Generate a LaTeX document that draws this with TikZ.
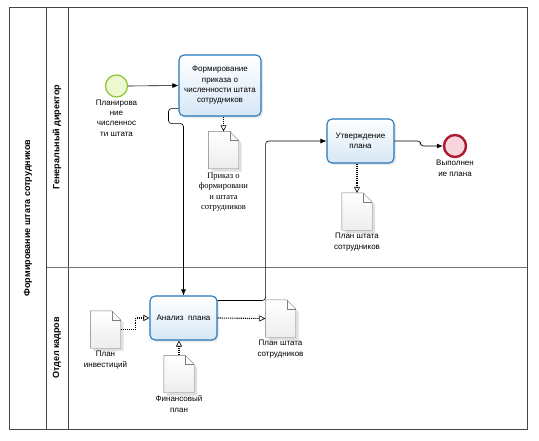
\documentclass[tikz,border=0pt]{standalone}
\usepackage{fontspec}
\setmainfont{Liberation Sans}
\newfontfamily\docserif{Liberation Serif}
\usepackage{tikz}
\usetikzlibrary{arrows.meta, positioning, calc, shadows}

\definecolor{poolline}{RGB}{70,70,70}
\definecolor{taskblue}{RGB}{38,118,186}
\definecolor{taskfill}{RGB}{214,231,246}
\definecolor{startline}{RGB}{140,195,45}
\definecolor{startfill}{RGB}{238,248,208}
\definecolor{endline}{RGB}{172,26,46}
\definecolor{endfill}{RGB}{246,214,220}
\definecolor{docline}{RGB}{125,125,125}

\newcommand{\docpage}[1]{%
  \fill[black, opacity=0.12] ($(#1.north west)+(3,3)$) -- ($(#1.north east)+(-6,3)$) -- ($(#1.north east)+(3,12)$) -- ($(#1.south east)+(3,3)$) -- ($(#1.south west)+(3,3)$) -- cycle;
  \draw[docline, top color=white, bottom color=black!7] (#1.north west) -- ($(#1.north east)+(-9,0)$) -- ($(#1.north east)+(0,9)$) -- (#1.south east) -- (#1.south west) -- cycle;
  \draw[docline] ($(#1.north east)+(-9,0)$) -- ($(#1.north east)+(-9,9)$) -- ($(#1.north east)+(0,9)$);
}

\begin{document}
\begin{tikzpicture}[
    x=1pt, y=-1pt,
    every node/.style={font=\fontsize{8}{10.3}\selectfont},
    lanetitle/.style={rotate=90, font=\bfseries\fontsize{9}{11}\selectfont},
    task/.style={rectangle, rounded corners=5pt, draw=taskblue, line width=1.1pt, top color=white, bottom color=taskfill, minimum width=67pt, minimum height=44pt, align=center, inner sep=2pt, drop shadow={opacity=0.18, shadow xshift=2pt, shadow yshift=-2pt}},
    startev/.style={circle, draw=startline, line width=1.2pt, fill=startfill, minimum size=22pt, inner sep=0pt},
    endev/.style={circle, draw=endline, line width=2.4pt, fill=endfill, minimum size=22pt, inner sep=0pt},
    docbox/.style={rectangle, minimum width=30pt, minimum height=37pt, inner sep=0pt},
    lbl/.style={align=center, inner sep=1pt},
    flow/.style={-{Latex[length=6pt, width=5pt]}, black, line width=0.6pt, rounded corners=3pt},
    assoc/.style={-{Triangle[open, length=6pt, width=6pt, line width=0.6pt]}, densely dotted, line width=1.1pt}
]
\useasboundingbox (0,0) rectangle (539,440);

\draw[poolline, line width=1pt] (9,7) rectangle (527,429);
\draw[poolline, line width=0.8pt] (46.5,7) -- (46.5,429);
\draw[poolline, line width=0.8pt] (68,7) -- (68,429);
\draw[black!55, line width=1pt] (46.5,267) -- (527,267);

\node (pool) [lanetitle] at (28,218) {Формирование штата сотрудников};
\node (lgd) [lanetitle] at (57,137) {Генеральный директор};
\node (lok) [lanetitle] at (57,348) {Отдел кадров};

\node (start) [startev] at (116.5,86) {};
\node (startlbl) [lbl, below=1pt of start] {Планирова\\ние\\численнос\\ти штата};

\node (form) [task, minimum width=82pt, minimum height=61pt] at (220,85.5) {Формирование\\приказа о\\численности штата\\сотрудников};
\node (appr) [task] at (360.5,141) {Утверждение\\плана};
\node (anal) [task] at (183.5,318) {Анализ\ \ плана};

\node (fin) [endev] at (455,146) {};
\node (finlbl) [lbl, below=1pt of fin] {Выполнен\\ие плана};

\node (dord) [docbox] at (223.5,150) {};
\node (dplan) [docbox] at (357,211.5) {};
\node (dinv) [docbox] at (105.5,329.5) {};
\node (dfin) [docbox] at (179,374) {};
\node (dshtat) [docbox] at (280.5,318.5) {};
\docpage{dord}
\docpage{dplan}
\docpage{dinv}
\docpage{dfin}
\docpage{dshtat}

\node (dordlbl) [lbl, font=\docserif\fontsize{8.5}{10.5}\selectfont, below=3pt of dord] {Приказ о\\формировани\\и штата\\сотрудников};
\node (dplanlbl) [lbl, below=2pt of dplan] {План штата\\сотрудников};
\node (dinvlbl) [lbl, below=2pt of dinv] {План\\инвестиций};
\node (dfinlbl) [lbl, below=2pt of dfin] {Финансовый\\план};
\node (dshtatlbl) [lbl, below=2pt of dshtat] {План штата\\сотрудников};

\draw [flow] (start.east) -- (form.west);
\draw [flow] ($(form.south west)+(0,-8)$) -- ++(-10,0) -- ++(0,15) -| (anal.north);
\draw [flow] ($(anal.north east)+(0,5)$) -- ++(48,0) |- (appr.west);
\draw [flow] (appr.east) -- ++(26,0) |- (fin.west);

\draw [assoc] (dord.north |- form.south) -- (dord.north);
\draw [assoc] (dplan.north |- appr.south) -- (dplan.north);
\draw [assoc] (dinv.east) -- ++(15,0) |- (anal.west);
\draw [assoc] (dfin.north) -- (dfin.north |- anal.south);
\draw [assoc] (anal.east) -- (dshtat.west);
\end{tikzpicture}
\end{document}
